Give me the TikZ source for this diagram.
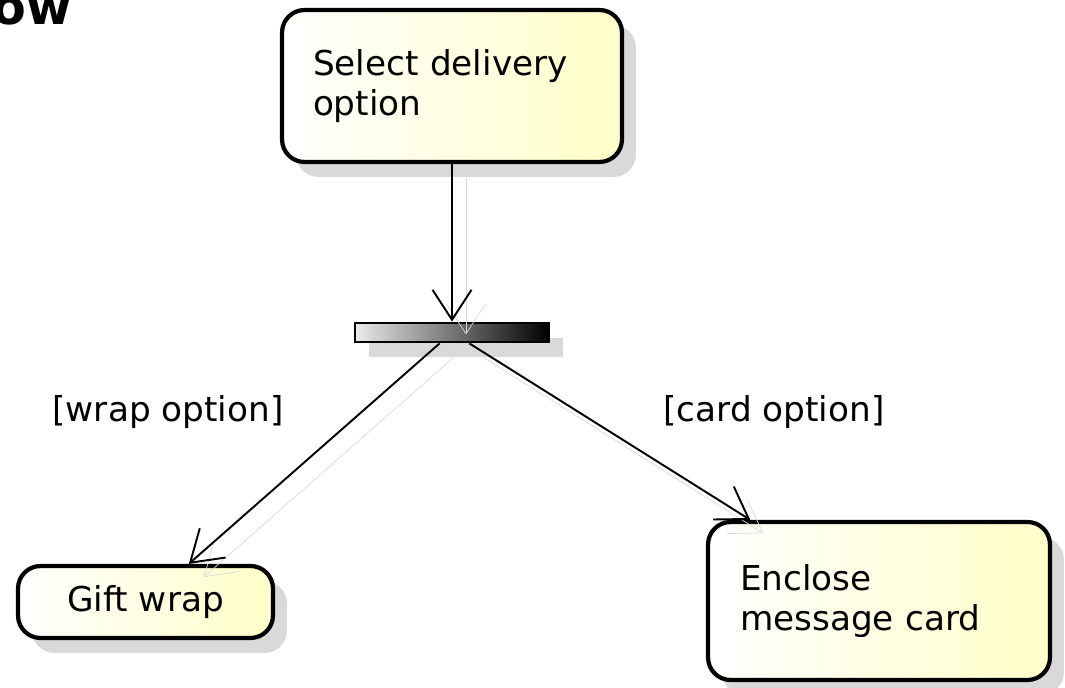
\documentclass[tikz,border=0pt]{standalone}
\usepackage{fontspec}
\setmainfont{DejaVu Sans}
\usetikzlibrary{arrows.meta,shadows}
\definecolor{actfill}{RGB}{255,255,200}
\tikzset{
	action/.style={draw, line width=2.4pt, rounded corners=0.45cm, left color=white, right color=actfill,
		drop shadow={shadow xshift=0.28cm, shadow yshift=-0.3cm, fill=black!15, opacity=1},
		font=\fontsize{19.5}{23}\selectfont, inner sep=0pt},
	syncbar/.style={draw, line width=1.6pt, left color=black!8, right color=black, inner sep=0pt,
		minimum width=3.88cm, minimum height=0.38cm,
		drop shadow={shadow xshift=0.28cm, shadow yshift=-0.3cm, fill=black!15, opacity=1}},
	guard/.style={font=\fontsize{19.5}{23}\selectfont, inner sep=0pt},
	flow/.style={line width=1.1pt, -{Straight Barb[length=0.6cm, width=0.78cm]},
		preaction={draw=black!15, -{Straight Barb[length=0.6cm, width=0.78cm]},
			transform canvas={shift={(0.28cm,-0.28cm)}}}}
}
\begin{document}
\begin{tikzpicture}[x=0.02cm, y=-0.02cm]
	\useasboundingbox (0,0) rectangle (1065,688);
	\clip (0,0) rectangle (1065,688);

	\node[anchor=base east, font=\bfseries\fontsize{28}{30}\selectfont, inner sep=0pt] (title) at (72,25) {ow};

	\node[action, minimum width=6.8cm, minimum height=3.04cm, text width=5.56cm, align=left] (select) at (452,86) {Select delivery\\option};
	\node[syncbar] (fork) at (452,332.5) {};
	\node[action, minimum width=5.1cm, minimum height=1.44cm] (gift) at (145.5,602) {Gift wrap};
	\node[action, minimum width=6.84cm, minimum height=3.16cm, text width=5.56cm, align=left] (card) at (879,601) {Enclose\\message card};

	\node[guard] (wraplbl) at (168,412) {[wrap option]};
	\node[guard] (cardlbl) at (774,412) {[card option]};

	\draw[flow] (select) -- (fork);
	\draw[flow] (fork) -- (gift);
	\draw[flow] (fork) -- (card);
\end{tikzpicture}
\end{document}
